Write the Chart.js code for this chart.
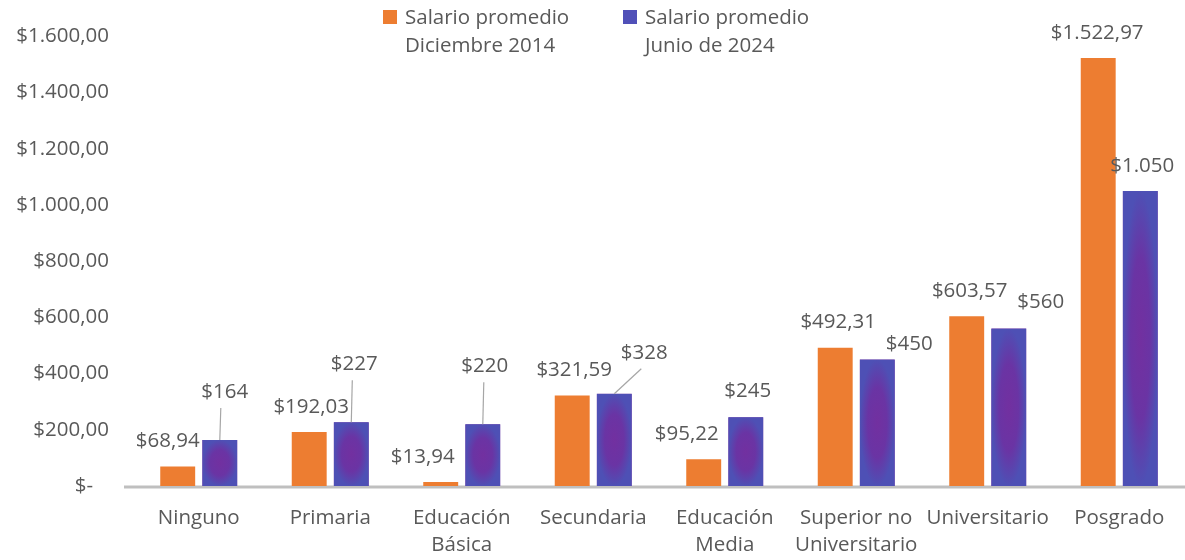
<!DOCTYPE html>
<html>
<head>
<meta charset="utf-8">
<script src="https://cdn.jsdelivr.net/npm/chart.js@4"></script>
<style>
  html, body { margin: 0; padding: 0; background: #fff; }
  #wrap { width: 1185px; height: 560px; }
</style>
</head>
<body>
<div id="wrap"><canvas id="salaryChart"></canvas></div>
<script>
const categories = ['Ninguno', 'Primaria', ['Educación', 'Básica'], 'Secundaria', ['Educación', 'Media'], ['Superior no', 'Universitario'], 'Universitario', 'Posgrado'];
const seriesNames = [['Salario promedio', 'Diciembre 2014'], ['Salario promedio', 'Junio de 2024']];
const salaryDec2014 = [68.94, 192.03, 13.94, 321.59, 95.22, 492.31, 603.57, 1522.97];
const salaryJun2024 = [164, 227, 220, 328, 245, 450, 560, 1050];
const yTicks = [0, 200, 400, 600, 800, 1000, 1200, 1400, 1600];

// label nudges [dx, dy] from bar top centre, and which ones get a leader line
const labelShift = [
  [[-10, -25], [2, -25], [-18, -25], [2, -25], [-17, -25], [3, -25], [3, -25], [-1, -25]],
  [[5, -48], [3, -58], [2, -58], [30, -41], [2, -26], [32, -15], [32, -26], [2, -25]]
];
const leaderLines = [
  [false, false, false, false, false, false, false, false],
  [true, true, true, true, false, false, false, false]
];

const textColor = '#595959';
const fontFam = "'Open Sans', sans-serif";
const fontPx = 20.5;

const money = (v, dec) => {
  const parts = v.toFixed(dec).split('.');
  const int = parts[0].replace(/\B(?=(\d{3})+(?!\d))/g, '.');
  return '$' + int + (dec ? ',' + parts[1] : '');
};

const purpleFill = {
  id: 'purpleFill',
  afterDatasetDraw(chart, args) {
    if (args.index !== 1) return;
    const ctx = chart.ctx;
    args.meta.data.forEach(bar => {
      const w = bar.width, h = bar.base - bar.y;
      const cx = bar.x, cy = bar.y + h / 2;
      ctx.save();
      ctx.beginPath();
      ctx.rect(cx - w / 2, bar.y, w, h);
      ctx.clip();
      ctx.translate(cx, cy);
      ctx.scale(w / 2, h / 2);
      const g = ctx.createRadialGradient(0, 0, 0, 0, 0, 1);
      g.addColorStop(0, '#7230A0');
      g.addColorStop(0.55, '#6A34A4');
      g.addColorStop(1, '#4E50B5');
      ctx.fillStyle = g;
      ctx.fillRect(-1, -1, 2, 2);
      ctx.restore();
    });
  }
};

const barLabels = {
  id: 'barLabels',
  afterDatasetsDraw(chart) {
    const ctx = chart.ctx;
    ctx.save();
    ctx.font = fontPx + 'px ' + fontFam;
    ctx.fillStyle = textColor;
    ctx.textAlign = 'center';
    ctx.textBaseline = 'middle';
    chart.data.datasets.forEach((ds, di) => {
      chart.getDatasetMeta(di).data.forEach((bar, i) => {
        const [dx, dy] = labelShift[di][i];
        const lx = bar.x + dx, ly = bar.y + dy;
        const txt = di === 0 ? money(ds.data[i], 2) : money(ds.data[i], 0);
        if (leaderLines[di][i]) {
          ctx.strokeStyle = '#A6A6A6';
          ctx.lineWidth = 1.2;
          ctx.beginPath();
          ctx.moveTo(bar.x, bar.y);
          ctx.lineTo(dx > 20 ? lx - 3 : bar.x + 1, ly + 16);
          ctx.stroke();
        }
        ctx.fillText(txt, lx, ly);
      });
    });
    ctx.restore();
  }
};

const topLegend = {
  id: 'topLegend',
  afterDraw(chart) {
    const ctx = chart.ctx;
    const items = [
      { x: 383, color: '#ED7D31', text: seriesNames[0] },
      { x: 623, color: '#5050B8', text: seriesNames[1] }
    ];
    ctx.save();
    ctx.font = fontPx + 'px ' + fontFam;
    ctx.textBaseline = 'middle';
    ctx.textAlign = 'left';
    items.forEach(it => {
      ctx.fillStyle = it.color;
      ctx.fillRect(it.x, 10, 14, 14);
      ctx.fillStyle = textColor;
      ctx.fillText(it.text[0], it.x + 22, 18);
      ctx.fillText(it.text[1], it.x + 22, 46);
    });
    ctx.restore();
  }
};

const baseLine = {
  id: 'baseLine',
  beforeDatasetsDraw(chart) {
    const ctx = chart.ctx;
    const y = chart.scales.y.getPixelForValue(0);
    ctx.save();
    ctx.strokeStyle = '#BFBFBF';
    ctx.lineWidth = 3;
    ctx.beginPath();
    ctx.moveTo(chart.chartArea.left - 9, y + 1);
    ctx.lineTo(chart.chartArea.right, y + 1);
    ctx.stroke();
    ctx.restore();
  }
};

new Chart(document.getElementById('salaryChart'), {
  type: 'bar',
  data: {
    labels: categories,
    datasets: [{
      label: seriesNames[0].join(' '),
      data: salaryDec2014,
      backgroundColor: '#ED7D31'
    }, {
      label: seriesNames[1].join(' '),
      data: salaryJun2024,
      backgroundColor: '#6A34A4'
    }]
  },
  options: {
    responsive: true,
    maintainAspectRatio: false,
    animation: false,
    categoryPercentage: 0.64,
    barPercentage: 0.83,
    layout: { padding: { top: 31, right: 0, left: 0, bottom: 0 } },
    scales: {
      x: {
        grid: { display: false, drawTicks: false },
        border: { display: false },
        ticks: {
          color: textColor,
          padding: 19,
          maxRotation: 0,
          autoSkip: false,
          font: { family: fontFam, size: fontPx, lineHeight: 1.32 }
        },
        afterFit: s => { s.height = 74; }
      },
      y: {
        min: 0,
        max: 1600,
        afterBuildTicks: s => { s.ticks = yTicks.map(v => ({ value: v })); },
        grid: { display: false, drawTicks: false },
        border: { display: false },
        ticks: {
          color: textColor,
          padding: 24,
          font: { family: fontFam, size: fontPx },
          callback: v => v === 0 ? '$-   ' : money(v, 2)
        },
        afterFit: s => { s.width = 133; }
      }
    },
    plugins: {
      legend: { display: false },
      tooltip: { enabled: false }
    }
  },
  plugins: [baseLine, purpleFill, barLabels, topLegend]
});
</script>
</body>
</html>
